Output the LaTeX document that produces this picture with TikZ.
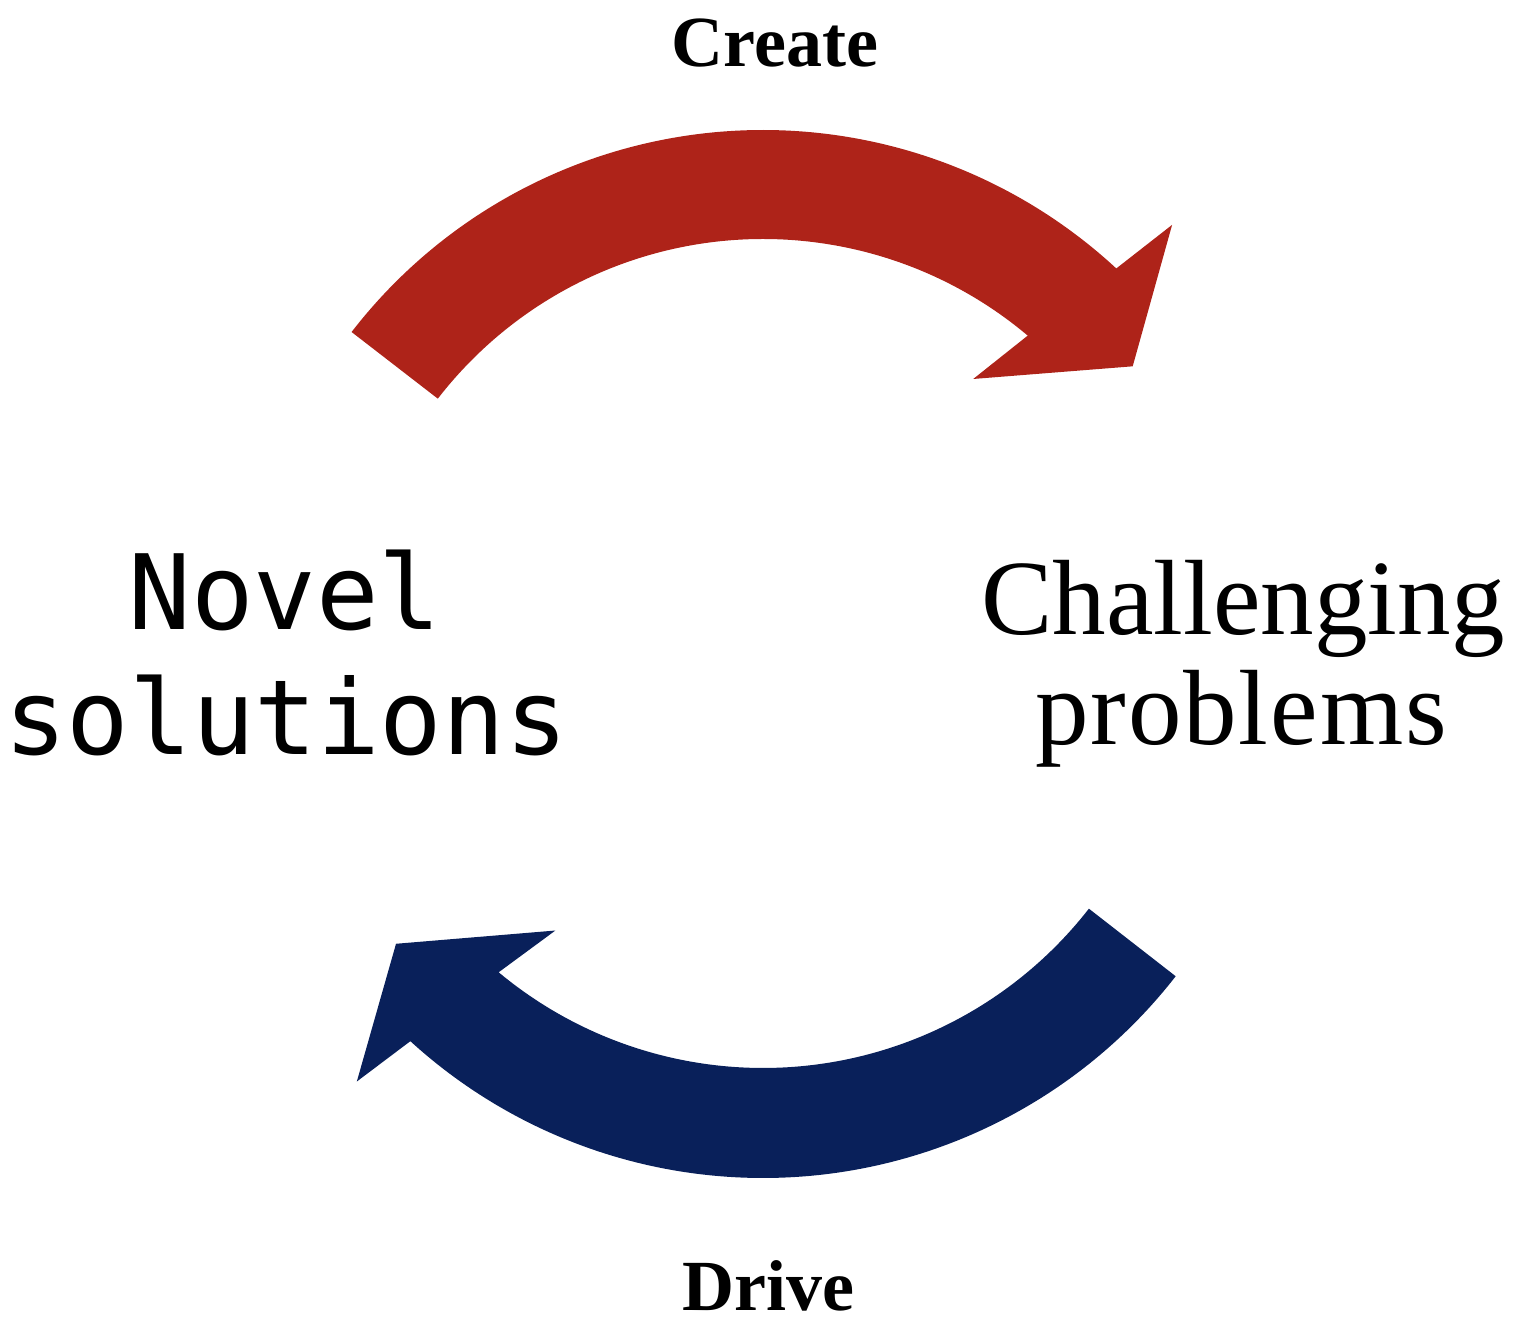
\documentclass[tikz,border=0pt]{standalone}
\usepackage{fontspec}
\setmainfont{Liberation Serif}
\newfontfamily\monofam{DejaVu Sans Mono}
\definecolor{arrowred}{RGB}{174,35,25}
\definecolor{arrowblue}{RGB}{9,32,90}
\begin{document}
\begin{tikzpicture}[x=1bp,y=1bp,
  verbtext/.style={font=\bfseries\fontsize{72bp}{80bp}\selectfont, anchor=base, inner sep=0pt},
  monotext/.style={font=\monofam\fontsize{104bp}{125bp}\selectfont, anchor=base, inner sep=0pt},
  serftext/.style={font=\fontsize{107bp}{120bp}\selectfont, anchor=base, inner sep=0pt}]
\useasboundingbox (0,0) rectangle (1516,1322);
\coordinate (Cr) at (763,672);
\coordinate (Cb) at (763,667);
% red arrow (Create)
\begin{scope}[shift={(Cr)}]
\fill[arrowred] (142.3:520) arc[start angle=142.3, end angle=47.2, radius=520]
  -- (46.1:590) -- (37.5:466) -- (52.2:343) -- (49.9:411)
  arc[start angle=49.9, end angle=142.3, radius=411] -- cycle;
\end{scope}
% blue arrow (Drive)
\begin{scope}[shift={(Cb)}]
\fill[arrowblue] (322.1:523) arc[start angle=322.1, end angle=227.6, radius=523]
  -- (226.4:589) -- (218.2:467) -- (233.0:345) -- (230.2:413)
  arc[start angle=230.2, end angle=322.1, radius=413] -- cycle;
\end{scope}
\node[verbtext] (create) at (775,1255) {Create};
\node[verbtext] (drive) at (768,11) {Drive};
\node[monotext] (novel) at (285,692) {Novel};
\node[monotext] (solutions) at (286,567) {solutions};
\node[serftext] (challenging) at (1243,687) {Challenging};
\node[serftext] (problems) at (1241,577) {\addfontfeature{LetterSpace=1.8}problems};
\end{tikzpicture}
\end{document}
